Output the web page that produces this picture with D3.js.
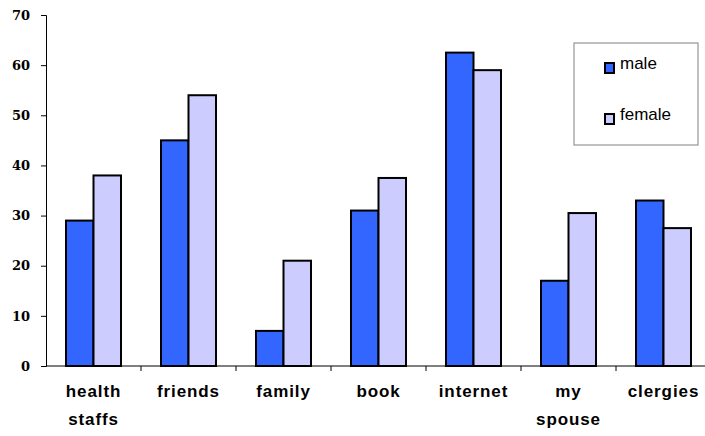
<!DOCTYPE html>
<html>
<head>
<meta charset="utf-8">
<script src="https://cdn.jsdelivr.net/npm/d3@7"></script>
<style>
  body { margin: 0; background: #fff; }
</style>
</head>
<body>
<div id="root"></div>
<script>
//DATA
const categories = [["health", "staffs"], ["friends"], ["family"], ["book"], ["internet"], ["my", "spouse"], ["clergies"]];
const maleValues = [29, 45, 7, 31, 62.5, 17, 33];
const femaleValues = [38, 54, 21, 37.5, 59, 30.5, 27.5];
const seriesNames = ["male", "female"];
const seriesColors = ["#3366FF", "#CCCCFF"];
const yTicks = [0, 10, 20, 30, 40, 50, 60, 70];

//DIMENSIONS
const width = 705, height = 436;
const plotLeft = 46, plotTop = 15, plotBottom = 366;
const bandW = 95;

const svg = d3.select('#root')
  .append('svg')
  .attr('width', width)
  .attr('height', height);

//SCALES
const keys = categories.map(c => c.join(' '));
const x = d3.scaleBand()
  .domain(keys)
  .range([plotLeft, plotLeft + bandW * keys.length])
  .paddingInner(0)
  .paddingOuter(0);

const xs = d3.scaleBand()
  .domain(seriesNames)
  .range([20, bandW - 20]);

const y = d3.scaleLinear()
  .domain([0, 70])
  .range([plotBottom, plotTop]);

//BARS
const groups = svg.append('g')
  .selectAll('g')
  .data(keys)
  .join('g')
  .attr('transform', d => `translate(${x(d)},0)`);

groups.selectAll('rect')
  .data((d, i) => [maleValues[i], femaleValues[i]].map((v, j) => ({s: seriesNames[j], v: v, c: seriesColors[j]})))
  .join('rect')
  .attr('x', d => xs(d.s))
  .attr('y', d => y(d.v))
  .attr('width', xs.bandwidth())
  .attr('height', d => y(0) - y(d.v))
  .attr('fill', d => d.c)
  .attr('stroke', '#000')
  .attr('stroke-width', 2);

//Y AXIS
const yAxis = svg.append('g')
  .attr('transform', `translate(${plotLeft},0)`)
  .call(d3.axisLeft(y).tickValues(yTicks).tickSize(5).tickPadding(11));
yAxis.select('.domain').attr('stroke', '#000');
yAxis.selectAll('text')
  .attr('font-family', 'DejaVu Serif')
  .attr('font-weight', 'bold')
  .attr('font-size', 13)
  .attr('fill', '#000');

//X AXIS
const xAxis = svg.append('g')
  .attr('transform', `translate(0,${plotBottom})`);
xAxis.append('line')
  .attr('x1', plotLeft).attr('x2', plotLeft + bandW * keys.length)
  .attr('stroke', '#000');
xAxis.selectAll('.tk')
  .data(keys.slice(1))
  .join('line')
  .attr('class', 'tk')
  .attr('x1', d => x(d)).attr('x2', d => x(d))
  .attr('y1', 0).attr('y2', 5)
  .attr('stroke', '#000');

const lbl = xAxis.selectAll('.lbl')
  .data(categories)
  .join('text')
  .attr('class', 'lbl')
  .attr('text-anchor', 'middle')
  .attr('font-family', 'Liberation Sans, Arial, sans-serif')
  .attr('font-weight', 'bold')
  .attr('font-size', 17)
  .attr('letter-spacing', 0.9)
  .attr('fill', '#000');
lbl.selectAll('tspan')
  .data((d, i) => d.map(t => ({t: t, k: keys[i]})))
  .join('tspan')
  .attr('x', d => x(d.k) + bandW / 2)
  .attr('y', (d, j) => 31 + j * 28)
  .text(d => d.t);

//LEGEND
const legend = svg.append('g').attr('transform', 'translate(574,43)');
legend.append('rect')
  .attr('width', 124).attr('height', 102)
  .attr('fill', '#fff')
  .attr('stroke', '#808080');
const li = legend.selectAll('.li')
  .data(seriesNames)
  .join('g')
  .attr('class', 'li')
  .attr('transform', (d, i) => `translate(31,${20 + i * 51})`);
li.append('rect')
  .attr('width', 9).attr('height', 10)
  .attr('fill', (d, i) => seriesColors[i])
  .attr('stroke', '#000')
  .attr('stroke-width', 2);
li.append('text')
  .attr('x', 15).attr('y', 6)
  .attr('font-family', 'Liberation Sans, Arial, sans-serif')
  .attr('font-size', 17)
  .attr('fill', '#000')
  .text(d => d);
</script>
</body>
</html>
